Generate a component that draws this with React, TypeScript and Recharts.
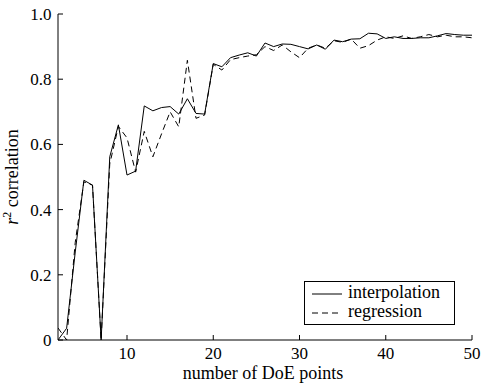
import React from 'react';
import { LineChart, Line, XAxis, YAxis, Legend } from 'recharts';

// Number of design-of-experiments points (x axis)
const doePoints = [
  2, 3, 4, 5, 6, 7, 8, 9, 10, 11, 12, 13, 14, 15, 16, 17, 18, 19, 20, 21, 22, 23, 24, 25,
  26, 27, 28, 29, 30, 31, 32, 33, 34, 35, 36, 37, 38, 39, 40, 41, 42, 43, 44, 45, 46, 47, 48, 49, 50,
];

// r^2 correlation of the interpolating surrogate
const interpolationR2 = [
  0, 0.036, 0.27, 0.49, 0.475, 0, 0.562, 0.66, 0.506, 0.518, 0.718, 0.703, 0.713, 0.716, 0.693,
  0.74, 0.695, 0.693, 0.848, 0.838, 0.866, 0.874, 0.881, 0.871, 0.911, 0.9, 0.908, 0.907, 0.9,
  0.893, 0.905, 0.892, 0.92, 0.915, 0.923, 0.924, 0.941, 0.939, 0.925, 0.93, 0.925, 0.925, 0.927,
  0.927, 0.933, 0.94, 0.937, 0.935, 0.935,
];

// r^2 correlation of the regression surrogate
const regressionR2 = [
  0.037, 0, 0.3, 0.485, 0.475, 0, 0.54, 0.655, 0.62, 0.515, 0.64, 0.562, 0.632, 0.7, 0.654,
  0.858, 0.68, 0.69, 0.846, 0.828, 0.86, 0.866, 0.871, 0.875, 0.9, 0.888, 0.905, 0.884, 0.866,
  0.895, 0.905, 0.895, 0.918, 0.913, 0.923, 0.895, 0.903, 0.92, 0.93, 0.925, 0.933, 0.925, 0.93,
  0.937, 0.93, 0.935, 0.93, 0.93, 0.927,
];

const xTicks = [10, 20, 30, 40, 50];
const yTicks = [0, 0.2, 0.4, 0.6, 0.8, 1.0];

const seriesNames = ['interpolation', 'regression'];

const data = doePoints.map((n, i) => ({
  n,
  interpolation: interpolationR2[i],
  regression: regressionR2[i],
}));

const FONT = '"Liberation Serif", "Times New Roman", Times, serif';
const TICK_LEN = 5;
const DASH = '6 4';

const formatY = (v: number) => (v === 0 ? '0' : v.toFixed(1));

// Inward-pointing ticks with labels outside the frame
const BottomTick = (p: any) => (
  <g>
    <line x1={p.x} y1={p.y} x2={p.x} y2={p.y - TICK_LEN} stroke="#000" strokeWidth={1} />
    <text x={p.x} y={p.y + 19} textAnchor="middle" fontFamily={FONT} fontSize={17} fill="#000">
      {p.payload.value}
    </text>
  </g>
);

const TopTick = (p: any) => (
  <line x1={p.x} y1={p.y} x2={p.x} y2={p.y + TICK_LEN} stroke="#000" strokeWidth={1} />
);

const LeftTick = (p: any) => (
  <g>
    <line x1={p.x} y1={p.y} x2={p.x + TICK_LEN} y2={p.y} stroke="#000" strokeWidth={1} />
    <text x={p.x - 6.5} y={p.y + 6} textAnchor="end" fontFamily={FONT} fontSize={17} fill="#000">
      {formatY(p.payload.value)}
    </text>
  </g>
);

const RightTick = (p: any) => (
  <line x1={p.x} y1={p.y} x2={p.x - TICK_LEN} y2={p.y} stroke="#000" strokeWidth={1} />
);

const renderXLabel = (props: any) => {
  const vb = props.viewBox;
  const cx = vb.x + vb.width / 2 - 2;
  return (
    <text x={cx} y={vb.y + 39} textAnchor="middle" fontFamily={FONT} fontSize={18} fill="#000">
      number of DoE points
    </text>
  );
};

const renderYLabel = (props: any) => {
  const vb = props.viewBox;
  const cx = vb.x + 18;
  const cy = vb.y + vb.height / 2;
  return (
    <text
      x={cx}
      y={cy}
      transform={`rotate(-90, ${cx}, ${cy})`}
      textAnchor="middle"
      fontFamily={FONT}
      fontSize={18}
      fill="#000"
    >
      <tspan fontStyle="italic">r</tspan>
      <tspan fontSize={12} dy={-7}>2</tspan>
      <tspan dy={7}> correlation</tspan>
    </text>
  );
};

const LegendBox = () => (
  <div
    style={{
      width: 151,
      height: 44,
      boxSizing: 'border-box',
      border: '1px solid #000',
      background: '#fff',
    }}
  >
    <svg width={149} height={42} style={{ display: 'block' }}>
      <line x1={7} y1={12} x2={37} y2={12} stroke="#000" strokeWidth={1} />
      <text x={43} y={15.5} fontFamily={FONT} fontSize={18} fill="#000">
        {seriesNames[0]}
      </text>
      <line x1={7} y1={31} x2={37} y2={31} stroke="#000" strokeWidth={1} strokeDasharray={DASH} />
      <text x={43} y={34.5} fontFamily={FONT} fontSize={18} fill="#000">
        {seriesNames[1]}
      </text>
    </svg>
  </div>
);

export default function App() {
  return (
    <div style={{ position: 'fixed', left: 0, top: 0, width: 482, height: 390, background: '#fff' }}>
      <LineChart
        width={482}
        height={390}
        data={data}
        margin={{ top: 14, right: 10, bottom: 0, left: 0 }}
      >
        <XAxis
          dataKey="n"
          type="number"
          domain={[2, 50]}
          ticks={xTicks}
          interval={0}
          allowDataOverflow
          height={50}
          tickSize={0}
          tickMargin={0}
          tickLine={false}
          axisLine={{ stroke: '#000', strokeWidth: 1 }}
          tick={(p: any) => <BottomTick {...p} />}
          label={renderXLabel}
        />
        <XAxis
          xAxisId="top"
          orientation="top"
          dataKey="n"
          type="number"
          domain={[2, 50]}
          ticks={xTicks}
          interval={0}
          allowDataOverflow
          height={0}
          tickSize={0}
          tickMargin={0}
          tickLine={false}
          axisLine={{ stroke: '#000', strokeWidth: 1 }}
          tick={(p: any) => <TopTick {...p} />}
        />
        <YAxis
          type="number"
          domain={[0, 1]}
          ticks={yTicks}
          interval={0}
          allowDataOverflow
          width={58}
          tickSize={0}
          tickMargin={0}
          tickLine={false}
          axisLine={{ stroke: '#000', strokeWidth: 1 }}
          tick={(p: any) => <LeftTick {...p} />}
          label={renderYLabel}
        />
        <YAxis
          yAxisId="right"
          orientation="right"
          type="number"
          domain={[0, 1]}
          ticks={yTicks}
          interval={0}
          allowDataOverflow
          width={0}
          tickSize={0}
          tickMargin={0}
          tickLine={false}
          axisLine={{ stroke: '#000', strokeWidth: 1 }}
          tick={(p: any) => <RightTick {...p} />}
        />
        <Line
          type="linear"
          dataKey="interpolation"
          stroke="#000"
          strokeWidth={1}
          dot={false}
          isAnimationActive={false}
        />
        <Line
          type="linear"
          dataKey="regression"
          stroke="#000"
          strokeWidth={1}
          strokeDasharray={DASH}
          dot={false}
          isAnimationActive={false}
        />
        <Legend
          layout="vertical"
          align="center"
          verticalAlign="middle"
          content={() => <LegendBox />}
          wrapperStyle={{ left: 304, top: 281, width: 151, height: 44 }}
        />
      </LineChart>
    </div>
  );
}
